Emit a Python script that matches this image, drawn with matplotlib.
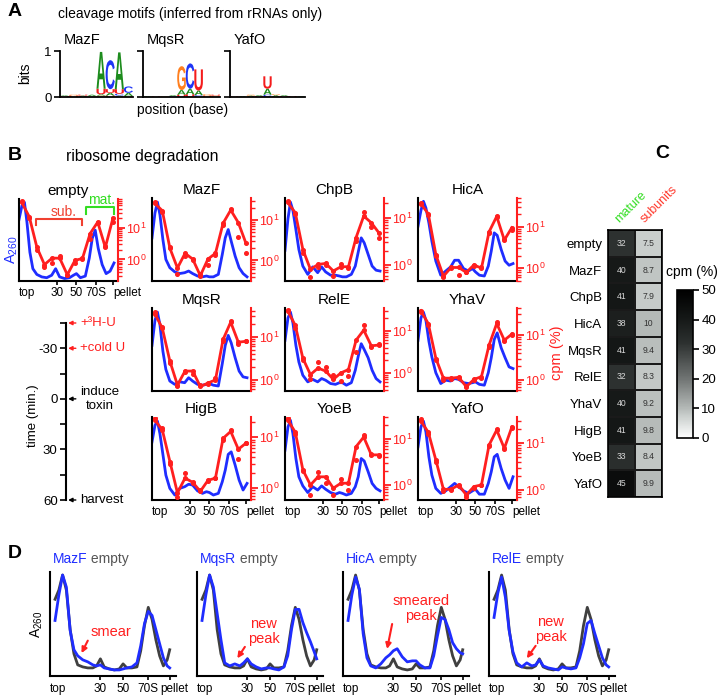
import numpy as np
import matplotlib
matplotlib.use('Agg')
import matplotlib.pyplot as plt
import matplotlib.transforms as mtransforms
from matplotlib.textpath import TextPath
from matplotlib.patches import PathPatch
from matplotlib.font_manager import FontProperties
from matplotlib.colors import LinearSegmentedColormap
from matplotlib.ticker import NullFormatter, LogLocator

plt.rcParams['font.family'] = ['Liberation Sans', 'DejaVu Sans']
plt.rcParams['mathtext.default'] = 'regular'

RED = '#ff1f1f'
BLUE = '#1f2dff'
GRAY = '#404040'
GREEN = '#33dd22'

# ---------------- A: sequence logos ----------------
MAZF_STACKS = ['UA', 'UG', 'AU', 'GA', 'GAUA', 'UAUC', 'ACUA', 'UAC']
MAZF_HEIGHTS = [[.02, .015], [.03, .02], [.03, .02], [.02, .03],
                [.03, .03, .12, .80], [.03, .06, .08, .63], [.03, .04, .10, .80], [.02, .07, .14]]
MQSR_STACKS = ['A', 'U', 'G', 'CA', 'UAG', 'UAC', 'CAU', 'UG', 'GU']
MQSR_HEIGHTS = [[.02], [.015], [.015], [.02, .02], [.05, .10, .52], [.06, .12, .55],
                [.04, .10, .46], [.03, .03], [.03, .02]]
YAFO_STACKS = ['U', 'A', 'AG', 'UA', 'CAU', 'AG', 'UA', 'U', 'A']
YAFO_HEIGHTS = [[.015], [.02], [.03, .02], [.02, .02], [.05, .13, .27], [.04, .02],
                [.02, .02], [.02], [.015]]
LOGO_COLORS = {'A': '#1d8c1d', 'C': '#1f35f5', 'G': '#ff7f1e', 'U': '#f41c1c'}

# ---------------- B: gradient profiles ----------------
BX = [0.0, 0.03, 0.055, 0.08, 0.11, 0.14, 0.18, 0.23, 0.28, 0.33, 0.37, 0.41, 0.46,
      0.51, 0.55, 0.58, 0.62, 0.67, 0.71, 0.74, 0.77, 0.80, 0.84, 0.88, 0.92, 0.96]
RX = [0.027, 0.104, 0.181, 0.257, 0.334, 0.411, 0.488, 0.565, 0.641, 0.718, 0.795, 0.872, 0.948]

A260_EMPTY = [0.75, 0.92, 0.96, 0.72, 0.35, 0.15, 0.08, 0.05, 0.04, 0.07, 0.15, 0.05, 0.03,
              0.04, 0.07, 0.09, 0.04, 0.06, 0.28, 0.52, 0.62, 0.40, 0.20, 0.09, 0.12, 0.22]
A260_MAZF = [0.52, 0.82, 0.95, 0.80, 0.50, 0.26, 0.16, 0.11, 0.09, 0.10, 0.12, 0.09, 0.06,
             0.05, 0.06, 0.05, 0.05, 0.08, 0.32, 0.52, 0.62, 0.48, 0.30, 0.16, 0.09, 0.05]
A260_CHPB = [0.37, 0.75, 0.95, 0.85, 0.62, 0.38, 0.18, 0.08, 0.17, 0.10, 0.17, 0.11, 0.07,
             0.07, 0.06, 0.05, 0.05, 0.08, 0.18, 0.35, 0.52, 0.46, 0.32, 0.18, 0.13, 0.12]
A260_HICA = [0.66, 0.85, 0.96, 0.88, 0.70, 0.48, 0.24, 0.07, 0.12, 0.17, 0.25, 0.25, 0.15,
             0.12, 0.15, 0.11, 0.07, 0.06, 0.18, 0.36, 0.58, 0.55, 0.38, 0.24, 0.19, 0.21]
A260_MQSR = [0.55, 0.85, 0.95, 0.80, 0.48, 0.26, 0.12, 0.08, 0.11, 0.10, 0.16, 0.12, 0.08,
             0.07, 0.08, 0.09, 0.07, 0.06, 0.33, 0.55, 0.67, 0.58, 0.40, 0.24, 0.17, 0.16]
A260_RELE = [0.61, 0.88, 0.95, 0.82, 0.55, 0.35, 0.19, 0.11, 0.14, 0.11, 0.15, 0.13, 0.09,
             0.08, 0.10, 0.10, 0.07, 0.10, 0.25, 0.42, 0.57, 0.50, 0.40, 0.25, 0.15, 0.11]
A260_YHAV = [0.61, 0.88, 0.95, 0.85, 0.60, 0.41, 0.22, 0.09, 0.13, 0.12, 0.15, 0.14, 0.10,
             0.09, 0.10, 0.11, 0.08, 0.07, 0.22, 0.40, 0.62, 0.70, 0.52, 0.40, 0.29, 0.27]
A260_HIGB = [0.70, 0.90, 0.95, 0.80, 0.55, 0.30, 0.14, 0.06, 0.14, 0.16, 0.19, 0.18, 0.11,
             0.08, 0.10, 0.09, 0.06, 0.08, 0.22, 0.36, 0.55, 0.58, 0.42, 0.24, 0.12, 0.20]
A260_YOEB = [0.60, 0.88, 0.96, 0.80, 0.50, 0.28, 0.17, 0.09, 0.16, 0.12, 0.17, 0.13, 0.09,
             0.07, 0.09, 0.08, 0.06, 0.08, 0.16, 0.28, 0.50, 0.47, 0.34, 0.20, 0.14, 0.11]
A260_YAFO = [0.64, 0.88, 0.95, 0.82, 0.52, 0.30, 0.14, 0.08, 0.11, 0.16, 0.20, 0.16, 0.11,
             0.08, 0.11, 0.13, 0.07, 0.07, 0.20, 0.34, 0.52, 0.55, 0.38, 0.24, 0.14, 0.28]

CPM_EMPTY = [63, 22, 2.4, 0.69, 1.1, 1.1, 0.33, 0.93, 1.08, 6.5, 15, 2.4, 19.5]
CPM_EMPTY_REP = [70, 20, 2.0, 0.6, 0.75, 1.3, 0.33, 0.8, 1.0, 4.5, 14, 2.6, 15]
CPM_MAZF = [26, 17, 2.0, 0.65, 1.5, 1.08, 0.42, 1.08, 1.5, 8.3, 17.6, 8.6, 2.7]
CPM_MAZF_REP = [28, 16, 2.2, 0.47, 1.3, 1.0, 0.45, 0.78, 1.4, 7.5, 19, 3.9, 1.5]
CPM_CHPB = [21, 12.7, 2.1, 0.81, 1.03, 1.08, 0.75, 0.92, 0.92, 3.8, 10.8, 7.8, 4.8]
CPM_CHPB_REP = [23, 12, 1.8, 0.57, 0.9, 1.0, 0.58, 1.03, 0.85, 3.2, 13.4, 6.2, 3.8]
CPM_HICA = [37, 20.6, 2.1, 0.64, 1.04, 1.04, 0.79, 1.2, 1.0, 7.6, 17.9, 4.8, 9.6]
CPM_HICA_REP = [35, 19, 2.0, 0.62, 1.0, 0.68, 0.8, 1.15, 1.05, 7.0, 17, 5.0, 8.5]
CPM_MQSR = [35, 16, 2.7, 0.76, 1.6, 1.6, 0.7, 0.84, 1.0, 8.7, 22, 7.5, 7.9]
CPM_MQSR_REP = [38, 17, 2.5, 0.7, 1.5, 1.4, 0.75, 0.8, 1.1, 8.0, 24, 7.0, 8.2]
CPM_RELE = [30, 13.5, 2.2, 0.91, 1.3, 1.1, 0.7, 1.0, 1.2, 6.0, 10.4, 4.4, 4.6]
CPM_RELE_REP = [32, 12, 2.0, 0.7, 1.8, 1.4, 0.9, 0.64, 0.84, 3.2, 13.5, 4.2, 4.8]
CPM_YHAV = [35, 18, 3.0, 1.1, 1.1, 1.15, 0.71, 1.03, 1.19, 6.0, 18, 7.7, 10.5]
CPM_YHAV_REP = [33, 17, 2.8, 1.0, 1.05, 1.1, 0.75, 1.0, 1.1, 5.5, 20, 7.2, 10]
CPM_HIGB = [22, 14, 3.3, 0.8, 1.57, 1.29, 0.86, 1.41, 1.57, 9.5, 13, 5.8, 7.6]
CPM_HIGB_REP = [24, 15, 3.0, 0.65, 1.97, 1.25, 0.9, 1.35, 1.6, 9.0, 14, 3.7, 7.8]
CPM_YOEB = [26, 14, 2.1, 1.0, 1.5, 1.5, 0.85, 1.09, 1.09, 6.8, 11, 4.5, 4.5]
CPM_YOEB_REP = [28, 13, 2.0, 0.6, 1.95, 1.09, 0.6, 1.33, 0.78, 3.5, 12, 4.6, 4.2]
CPM_YAFO = [30, 17, 4.3, 1.03, 1.03, 1.28, 0.78, 1.18, 1.28, 9.1, 19, 7.7, 22]
CPM_YAFO_REP = [32, 16, 4.0, 0.95, 1.0, 1.2, 0.7, 1.1, 1.3, 8.5, 20, 7.5, 21]

CPM_LIMS = {'empty': (0.21, 80), 'MazF': (0.31, 35), 'ChpB': (0.46, 26), 'HicA': (0.49, 50),
            'MqsR': (0.55, 47), 'RelE': (0.37, 35), 'YhaV': (0.57, 40),
            'HigB': (0.58, 25), 'YoeB': (0.47, 30), 'YafO': (0.61, 36)}

FRACTION_TICKS = [0.385, 0.575, 0.775, 0.95]
FRACTION_LABELS = ['30', '50', '70S']

# time line
TIME_TICKS = [-45, -30, -15, 0, 15, 30, 45, 60]
TIME_EVENTS = [-45, -30, 0, 60]
TIME_LABELS = ['+³H-U', '+cold U', 'induce\ntoxin', 'harvest']

# ---------------- C: heatmap ----------------
STRAINS = ['empty', 'MazF', 'ChpB', 'HicA', 'MqsR', 'RelE', 'YhaV', 'HigB', 'YoeB', 'YafO']
MATURE = [32, 40, 41, 38, 41, 32, 40, 41, 33, 45]
SUBUNITS = [7.5, 8.7, 7.9, 10, 9.4, 8.3, 9.2, 9.8, 8.4, 9.9]
CBAR_TICKS = [0, 10, 20, 30, 40, 50]

# ---------------- D: overlays ----------------
DX = [0.04, 0.07, 0.10, 0.13, 0.16, 0.19, 0.22, 0.26, 0.30, 0.34, 0.37, 0.40, 0.43, 0.47, 0.51,
      0.55, 0.58, 0.61, 0.65, 0.69, 0.72, 0.75, 0.78, 0.81, 0.84, 0.87, 0.90, 0.93, 0.95]
D_EMPTY = [0.76, 0.85, 1.00, 0.85, 0.46, 0.22, 0.11, 0.09, 0.08, 0.08, 0.10, 0.17, 0.09, 0.07, 0.06,
           0.07, 0.12, 0.08, 0.08, 0.09, 0.25, 0.50, 0.68, 0.56, 0.36, 0.20, 0.10, 0.16, 0.26]
D_MAZF = [0.55, 0.80, 1.00, 0.88, 0.45, 0.26, 0.20, 0.16, 0.14, 0.11, 0.10, 0.11, 0.08, 0.07, 0.06,
          0.06, 0.07, 0.08, 0.09, 0.13, 0.30, 0.52, 0.64, 0.60, 0.46, 0.32, 0.18, 0.10, 0.08]
D_MQSR = [0.55, 0.80, 1.00, 0.88, 0.62, 0.36, 0.13, 0.10, 0.12, 0.10, 0.13, 0.17, 0.12, 0.09, 0.07,
          0.08, 0.08, 0.07, 0.06, 0.09, 0.20, 0.46, 0.66, 0.66, 0.53, 0.43, 0.34, 0.24, 0.17]
D_HICA = [0.55, 0.80, 0.98, 0.86, 0.42, 0.18, 0.10, 0.08, 0.12, 0.18, 0.21, 0.25, 0.27, 0.19, 0.14,
          0.15, 0.15, 0.11, 0.08, 0.08, 0.20, 0.40, 0.58, 0.56, 0.46, 0.33, 0.27, 0.23, 0.22]
D_RELE = [0.58, 0.82, 0.98, 0.78, 0.45, 0.24, 0.13, 0.09, 0.13, 0.10, 0.11, 0.16, 0.10, 0.08, 0.07,
          0.06, 0.09, 0.08, 0.07, 0.08, 0.18, 0.32, 0.52, 0.55, 0.42, 0.30, 0.18, 0.11, 0.09]
D_NAMES = ['MazF', 'MqsR', 'HicA', 'RelE']
D_NOTES = ['smear', 'new\npeak', 'smeared\npeak', 'new\npeak']

W, H = 720, 697
fig = plt.figure(figsize=(W / 100, H / 100), dpi=100)


def ax_px(x, y, w, h):
    return fig.add_axes([x / W, 1 - (y + h) / H, w / W, h / H])


def fig_text(x, y, s, **kw):
    return fig.text(x / W, 1 - y / H, s, **kw)


LOGO_FP = FontProperties(family='Liberation Sans', weight='bold')


def draw_letter(ax, ch, xc, y0, h, w=1.0):
    tp = TextPath((0, 0), ch, size=1, prop=LOGO_FP)
    bb = tp.get_extents()
    tr = (mtransforms.Affine2D().translate(-bb.x0, -bb.y0)
          .scale(w / bb.width, h / bb.height).translate(xc - w / 2, y0))
    ax.add_patch(PathPatch(tr.transform_path(tp), fc=LOGO_COLORS[ch], ec='none', lw=0))


# ===== Panel A =====
fig_text(8, 12, 'A', fontsize=14, fontweight='bold', va='center')
fig_text(190, 14, 'cleavage motifs (inferred from rRNAs only)', fontsize=10, ha='center', va='center')
logo_specs = [('MazF', MAZF_STACKS, MAZF_HEIGHTS, 60, 73),
              ('MqsR', MQSR_STACKS, MQSR_HEIGHTS, 143, 77),
              ('YafO', YAFO_STACKS, YAFO_HEIGHTS, 230, 75)]
for k, (name, stacks, heights, x0, w) in enumerate(logo_specs):
    ax = ax_px(x0, 51, w, 46)
    for p, (letters, hs) in enumerate(zip(stacks, heights)):
        y = 0
        for ch, h in zip(letters, hs):
            draw_letter(ax, ch, p, y, h)
            y += h
    ax.set_xlim(-0.5, len(stacks) - 0.5)
    ax.set_ylim(0, 1)
    ax.spines[['top', 'right']].set_visible(False)
    ax.spines[['left', 'bottom']].set_linewidth(1.3)
    ax.set_xticks([])
    ax.set_yticks([0, 1])
    ax.tick_params(axis='y', length=4, width=1.2, labelsize=9.5, pad=2)
    if k > 0:
        ax.set_yticklabels([])
    ax.text(0.05, 1.08, name, transform=ax.transAxes, fontsize=10.5, va='bottom')
fig_text(25, 73, 'bits', fontsize=10, rotation=90, ha='center', va='center')
fig_text(183, 110, 'position (base)', fontsize=10, ha='center', va='center')

# ===== Panel B =====
fig_text(8, 155, 'B', fontsize=14, fontweight='bold', va='center')
fig_text(142, 157, 'ribosome degradation', fontsize=11.3, ha='center', va='center')

profiles = {
    'empty': (A260_EMPTY, CPM_EMPTY, CPM_EMPTY_REP),
    'MazF': (A260_MAZF, CPM_MAZF, CPM_MAZF_REP),
    'ChpB': (A260_CHPB, CPM_CHPB, CPM_CHPB_REP),
    'HicA': (A260_HICA, CPM_HICA, CPM_HICA_REP),
    'MqsR': (A260_MQSR, CPM_MQSR, CPM_MQSR_REP),
    'RelE': (A260_RELE, CPM_RELE, CPM_RELE_REP),
    'YhaV': (A260_YHAV, CPM_YHAV, CPM_YHAV_REP),
    'HigB': (A260_HIGB, CPM_HIGB, CPM_HIGB_REP),
    'YoeB': (A260_YOEB, CPM_YOEB, CPM_YOEB_REP),
    'YafO': (A260_YAFO, CPM_YAFO, CPM_YAFO_REP),
}
layout = {'empty': (19, 199), 'MazF': (152, 198), 'ChpB': (285, 198), 'HicA': (418, 198),
          'MqsR': (152, 308), 'RelE': (285, 308), 'YhaV': (418, 308),
          'HigB': (152, 417), 'YoeB': (285, 417), 'YafO': (418, 417)}
labelled = ['empty', 'HigB', 'YoeB', 'YafO']


def fraction_axis(ax, ticks, labels, pellet_x, pellet_ha, size=8.5):
    ax.set_xticks(ticks)
    ax.set_xticklabels([])
    ax.tick_params(axis='x', length=3, width=1.2)
    tr = ax.transAxes
    ax.text(0.0, -0.07, 'top', transform=tr, ha='left', va='top', fontsize=size)
    for t, lab in zip(ticks, labels):
        ax.text(t, -0.07, lab, transform=tr, ha='center', va='top', fontsize=size)
    ax.text(pellet_x, -0.07, 'pellet', transform=tr, ha=pellet_ha, va='top', fontsize=size)


for name, (blue, red, rep) in profiles.items():
    x0, y0 = layout[name]
    ax = ax_px(x0, y0, 99, 82 if name == 'empty' else 83)
    ax.plot(BX, blue, color=BLUE, lw=2, zorder=2)
    ax.set_xlim(0, 1)
    ax.set_ylim(0, 1)
    ax.spines[['top', 'right']].set_visible(False)
    ax.spines[['left', 'bottom']].set_linewidth(1.5)
    ax.set_yticks([])
    ax.set_xticks([])
    ax.set_title(name, fontsize=11, pad=3)
    if name in labelled:
        fraction_axis(ax, FRACTION_TICKS, FRACTION_LABELS + [''], 0.95, 'left')
    rx = ax.twinx()
    rx.set_yscale('log')
    rx.set_ylim(*CPM_LIMS[name])
    rx.plot(RX, red, color=RED, lw=2, marker='o', ms=2.6, zorder=3)
    rx.plot(RX, rep, ls='none', marker='o', ms=2.6, color=RED, zorder=3)
    rx.spines[['top', 'left', 'bottom']].set_visible(False)
    rx.spines['right'].set_color(RED)
    rx.spines['right'].set_linewidth(1.5)
    rx.yaxis.set_major_locator(LogLocator(base=10, numticks=10))
    rx.yaxis.set_minor_formatter(NullFormatter())
    rx.tick_params(axis='y', which='major', colors=RED, length=5, width=1.3, labelsize=9, pad=1)
    rx.tick_params(axis='y', which='minor', colors=RED, length=3, width=1.0)
    if name == 'empty':
        tr = ax.transAxes
        ax.plot([0.17, 0.17, 0.64, 0.64], [0.68, 0.75, 0.75, 0.68], color='#f04030', lw=1.5,
                transform=tr, clip_on=False, zorder=5)
        ax.text(0.45, 0.84, 'sub.', color='#f04030', fontsize=10, transform=tr, ha='center', va='center')
        ax.plot([0.68, 0.68, 0.96, 0.96], [0.82, 0.9, 0.9, 0.82], color=GREEN, lw=1.5,
                transform=tr, clip_on=False, zorder=5)
        ax.text(0.83, 0.99, 'mat.', color=GREEN, fontsize=10, transform=tr, ha='center', va='center')

fig_text(12, 250, 'A$_{260}$', color=BLUE, fontsize=10.5, rotation=90, ha='center', va='center')
fig_text(557, 353, 'cpm (%)', color=RED, fontsize=10.5, rotation=90, ha='center', va='center')

# time line
tax = ax_px(66, 323, 70, 177)
tax.set_ylim(60, -45)
tax.set_xlim(0, 1)
tax.spines[['top', 'right', 'bottom']].set_visible(False)
tax.spines['left'].set_linewidth(1.5)
tax.set_xticks([])
tax.set_yticks(TIME_TICKS)
tax.set_yticklabels([str(t) if t % 30 == 0 else '' for t in TIME_TICKS])
tax.tick_params(axis='y', length=4, width=1.2, labelsize=9.5, pad=2)
tax.patch.set_visible(False)
for t, lab in zip(TIME_EVENTS, TIME_LABELS):
    col = RED if t < 0 else 'black'
    tax.annotate(lab, xy=(0.03, t), xycoords=tax.get_yaxis_transform(),
                 xytext=(0.2, t), textcoords=tax.get_yaxis_transform(),
                 color=col, fontsize=9.5, ha='left', va='center', multialignment='center',
                 annotation_clip=False,
                 arrowprops=dict(arrowstyle='-|>', color=col, lw=1, shrinkA=1, shrinkB=0,
                                 mutation_scale=6))
fig_text(33, 416, 'time (min.)', fontsize=9.5, rotation=90, ha='center', va='center')

# ===== Panel C =====
fig_text(655, 153, 'C', fontsize=14, fontweight='bold', va='center')
cmap = LinearSegmentedColormap.from_list(
    'cpm', [(0, '#ffffff'), (0.15, '#c9cecc'), (0.2, '#b4b9b7'), (0.4, '#707473'),
            (0.64, '#2d3130'), (0.8, '#161918'), (1.0, '#000000')])
hax = ax_px(608, 230, 54, 267)
heat = np.column_stack([MATURE, SUBUNITS])
im = hax.pcolormesh(np.arange(3), np.arange(11), heat, cmap=cmap, vmin=0, vmax=50,
                    edgecolors='#1a1a1a', linewidth=1.2)
hax.set_xlim(0, 2)
hax.set_ylim(10, 0)
hax.set_xticks([])
hax.set_yticks(np.arange(10) + 0.5)
hax.set_yticklabels(STRAINS, fontsize=9.5)
hax.tick_params(axis='y', length=0, pad=4)
for s in hax.spines.values():
    s.set_linewidth(1.2)
for i in range(10):
    hax.text(0.5, i + 0.5, f'{MATURE[i]:g}', color='#d8d8d8', fontsize=6.2, ha='center', va='center')
    hax.text(1.5, i + 0.5, f'{SUBUNITS[i]:g}', color='#333333', fontsize=6.2, ha='center', va='center')
hax.text(0.5, -0.2, 'mature', color=GREEN, fontsize=9, rotation=45, ha='left', va='bottom',
         rotation_mode='anchor')
hax.text(1.45, -0.2, 'subunits', color='#ff3b2f', fontsize=9, rotation=45, ha='left', va='bottom',
         rotation_mode='anchor')
cax = ax_px(677, 290, 16, 148)
cb = fig.colorbar(im, cax=cax, ticks=CBAR_TICKS)
cb.outline.set_linewidth(1.2)
cax.tick_params(labelsize=9.5, length=4, width=1.2, pad=2)
fig_text(692, 272, 'cpm (%)', fontsize=10, ha='center', va='center')

# ===== Panel D =====
fig_text(8, 553, 'D', fontsize=14, fontweight='bold', va='center')
D_POS = [50, 197, 343, 489]
d_curves = [D_MAZF, D_MQSR, D_HICA, D_RELE]
note_xy = [(0.48, 0.42), (0.53, 0.43), (0.62, 0.65), (0.49, 0.45)]
arrow_tail = [(0.30, 0.34), (0.38, 0.28), (0.39, 0.50), (0.37, 0.29)]
arrow_head = [(0.25, 0.22), (0.32, 0.17), (0.35, 0.26), (0.30, 0.17)]
for k, (x0, curve, name, note) in enumerate(zip(D_POS, d_curves, D_NAMES, D_NOTES)):
    ax = ax_px(x0, 572, 126, 104)
    ax.plot(DX, D_EMPTY, color=GRAY, lw=2, zorder=2)
    ax.plot(DX, curve, color=BLUE, lw=2, zorder=3)
    ax.set_xlim(0, 1)
    ax.set_ylim(0, 1.03)
    ax.spines[['top', 'right']].set_visible(False)
    ax.spines[['left', 'bottom']].set_linewidth(1.5)
    ax.set_yticks([])
    fraction_axis(ax, [0.40, 0.58, 0.78, 0.95], ['30', '50', '70S', ''], 0.99, 'center')
    ax.texts[-1].set_text('pellet')
    t1 = ax.text(0.02, 1.06, name, color=BLUE, fontsize=10, transform=ax.transAxes,
                 ha='left', va='bottom')
    ax.annotate(' empty', xy=(1, 0), xycoords=t1, color='#555555', fontsize=10,
                ha='left', va='bottom')
    ax.text(*note_xy[k], note, color=RED, fontsize=10.5, transform=ax.transAxes,
            ha='center', va='center', linespacing=1.1)
    ax.annotate('', xy=arrow_head[k], xycoords='axes fraction', xytext=arrow_tail[k],
                textcoords='axes fraction',
                arrowprops=dict(arrowstyle='-|>', color=RED, lw=1.5, mutation_scale=8,
                                shrinkA=0, shrinkB=0))
fig_text(37, 624, 'A$_{260}$', fontsize=10, rotation=90, ha='center', va='center')

fig.savefig('out.png', dpi=100)
